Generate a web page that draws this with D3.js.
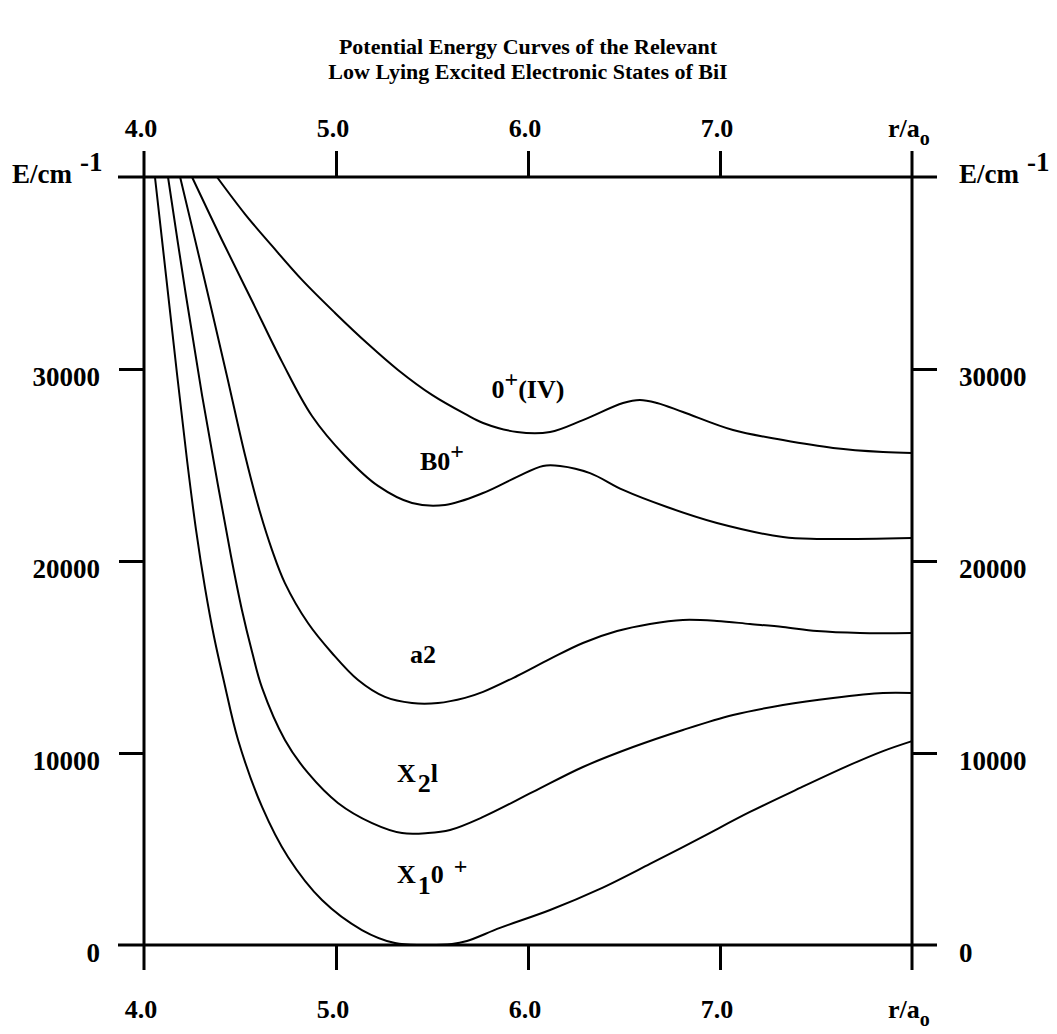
<!DOCTYPE html>
<html>
<head>
<meta charset="utf-8">
<script src="https://cdn.jsdelivr.net/npm/d3@7/dist/d3.min.js"></script>
<style>
  body { margin: 0; background: #fff; }
  text { font-family: "Liberation Serif", "Times New Roman", serif; fill: #000; font-weight: bold; }
</style>
</head>
<body>
<div id="chart"></div>
<script>
// title and axis labels
const titleLines = ["Potential Energy Curves of the Relevant", "Low Lying Excited Electronic States of BiI"];
const rTicks = [4, 5, 6, 7, 8];
const rTickLabels = ["4.0", "5.0", "6.0", "7.0"];
const eTicks = [0, 10000, 20000, 30000, 40000];
const eTickLabels = ["0", "10000", "20000", "30000"];

// potential curves, r in bohr, E in cm-1
const rX1 = [4.057, 4.115, 4.172, 4.224, 4.271, 4.318, 4.365, 4.417, 4.49, 4.615, 4.75, 4.927, 5.135, 5.307, 5.448, 5.604, 5.682, 5.854, 6.115, 6.375, 6.635, 6.896, 7.156, 7.417, 7.677, 7.849, 8.0];
const eX1 = [40000, 34840, 29740, 25260, 21620, 18590, 16040, 13700, 10680, 7190, 4580, 2340, 780, 100, 0, 50, 210, 890, 1820, 2920, 4220, 5570, 6930, 8180, 9380, 10100, 10620];

const rX2 = [4.125, 4.214, 4.302, 4.385, 4.453, 4.51, 4.563, 4.615, 4.734, 4.854, 5.01, 5.188, 5.344, 5.479, 5.594, 5.766, 6.026, 6.286, 6.547, 6.807, 7.068, 7.328, 7.589, 7.849, 8.0];
const eX2 = [40000, 34120, 28650, 23960, 20260, 17450, 15260, 13390, 10680, 8960, 7400, 6350, 5830, 5830, 5990, 6670, 7970, 9270, 10310, 11200, 11980, 12500, 12870, 13130, 13130];

const rA2 = [4.188, 4.307, 4.432, 4.526, 4.604, 4.667, 4.734, 4.854, 4.979, 5.115, 5.255, 5.396, 5.531, 5.672, 5.766, 5.943, 6.115, 6.286, 6.464, 6.635, 6.807, 6.984, 7.156, 7.328, 7.505, 7.729, 8.0];
const eA2 = [40000, 35000, 29640, 25520, 22550, 20570, 18850, 16770, 15210, 13800, 12920, 12600, 12600, 12870, 13180, 14010, 14900, 15730, 16350, 16720, 16930, 16880, 16720, 16560, 16350, 16250, 16250];

const rB0 = [4.25, 4.406, 4.563, 4.719, 4.875, 5.047, 5.219, 5.396, 5.568, 5.766, 5.943, 6.078, 6.167, 6.323, 6.495, 6.724, 6.984, 7.328, 7.505, 8.0];
const eB0 = [40000, 36720, 33540, 30370, 27550, 25470, 23910, 23020, 22920, 23540, 24380, 24950, 24950, 24580, 23700, 22810, 21980, 21250, 21150, 21200];

const rIV = [4.38, 4.526, 4.667, 4.823, 4.995, 5.167, 5.323, 5.5, 5.672, 5.766, 5.943, 6.115, 6.286, 6.495, 6.583, 6.672, 6.807, 7.068, 7.328, 7.589, 7.849, 8.0];
const eIV = [40000, 38070, 36410, 34640, 32920, 31300, 29950, 28650, 27660, 27190, 26720, 26720, 27340, 28230, 28390, 28230, 27760, 26820, 26300, 25890, 25680, 25630];

const curves = [
  {name: "X1 0+", r: rX1, e: eX1},
  {name: "X2 1", r: rX2, e: eX2},
  {name: "a2", r: rA2, e: eA2},
  {name: "B0+", r: rB0, e: eB0},
  {name: "0+(IV)", r: rIV, e: eIV}
];

const W = 1057, H = 1034;

const svg = d3.select("#chart").append("svg")
  .attr("width", W)
  .attr("height", H);

svg.append("rect").attr("width", W).attr("height", H).attr("fill", "#fff");

const x = d3.scaleLinear().domain([4, 8]).range([144, 912]);
const y = d3.scaleLinear().domain([0, 40000]).range([945, 177]);

// title
svg.append("g").selectAll("text")
  .data(titleLines)
  .join("text")
  .attr("x", 528)
  .attr("y", (d, i) => 54 + i * 25)
  .attr("text-anchor", "middle")
  .style("font-size", "22px")
  .text(d => d);

// frame lines (extend past the axes like the original)
const frame = svg.append("g").attr("stroke", "#000").attr("stroke-width", 3);
[0, 40000].forEach(v => {
  frame.append("line")
    .attr("x1", x(4) - 26).attr("x2", x(8) + 25)
    .attr("y1", y(v)).attr("y2", y(v));
});
[4, 8].forEach(v => {
  frame.append("line")
    .attr("x1", x(v)).attr("x2", x(v))
    .attr("y1", y(40000) - 26).attr("y2", y(0) + 25);
});

// ticks via d3 axes
function styleAxis(g) {
  g.select(".domain").remove();
  g.selectAll(".tick line").attr("stroke", "#000").attr("stroke-width", 3);
  g.selectAll(".tick text").remove();
}
svg.append("g").attr("transform", `translate(0,${y(40000)})`)
  .call(d3.axisTop(x).tickValues(rTicks.slice(1, 4)).tickSize(26)).call(styleAxis);
svg.append("g").attr("transform", `translate(0,${y(0)})`)
  .call(d3.axisBottom(x).tickValues(rTicks.slice(1, 4)).tickSize(25)).call(styleAxis);
svg.append("g").attr("transform", `translate(${x(4)},0)`)
  .call(d3.axisLeft(y).tickValues(eTicks.slice(1, 4)).tickSize(25)).call(styleAxis);
svg.append("g").attr("transform", `translate(${x(8)},0)`)
  .call(d3.axisRight(y).tickValues(eTicks.slice(1, 4)).tickSize(25)).call(styleAxis);

// x tick labels, top and bottom
[y(40000) - 40, y(0) + 73].forEach(by => {
  svg.append("g").selectAll("text")
    .data(rTickLabels)
    .join("text")
    .attr("x", (d, i) => x(rTicks[i]) - 3)
    .attr("y", by)
    .attr("text-anchor", "middle")
    .style("font-size", "26px")
    .text(d => d);
  const ra = svg.append("text")
    .attr("x", x(8) - 24)
    .attr("y", by)
    .style("font-size", "26px");
  ra.append("tspan").text("r/a");
  ra.append("tspan").attr("dy", 8).style("font-size", "20px").text("o");
});

// y tick labels, left and right
const yl = svg.append("g").style("font-size", "27px");
yl.selectAll(".yl")
  .data(eTickLabels)
  .join("text")
  .attr("class", "yl")
  .attr("x", x(4) - 44)
  .attr("y", (d, i) => y(eTicks[i]) + 17)
  .attr("text-anchor", "end")
  .text(d => d);
yl.selectAll(".yr")
  .data(eTickLabels)
  .join("text")
  .attr("class", "yr")
  .attr("x", x(8) + 47)
  .attr("y", (d, i) => y(eTicks[i]) + 17)
  .text(d => d);

// energy unit labels
[12, x(8) + 47].forEach(lx => {
  const t = yl.append("text").attr("x", lx).attr("y", y(40000) + 6);
  t.append("tspan").text("E/cm");
  t.append("tspan").attr("dx", 8).attr("dy", -12).text("-1");
});

// curves
const line = d3.line()
  .x(d => x(d[0]))
  .y(d => y(d[1]))
  .curve(d3.curveCatmullRom.alpha(0.5));

svg.append("g").selectAll("path")
  .data(curves)
  .join("path")
  .attr("fill", "none")
  .attr("stroke", "#000")
  .attr("stroke-width", 2)
  .attr("d", c => line(c.r.map((r, i) => [r, c.e[i]])));

// curve labels
const cl = svg.append("g").style("font-size", "26px");
function label(r, e, parts) {
  const t = cl.append("text").attr("x", x(r)).attr("y", y(e));
  parts.forEach(p => {
    const s = t.append("tspan").text(p.t);
    if (p.dy) s.attr("dy", p.dy);
    if (p.dx) s.attr("dx", p.dx);
    if (p.fs) s.style("font-size", p.fs);
  });
}
label(5.81, 28490, [{t: "0"}, {t: "+", dy: -11, fs: "24px"}, {t: "(IV)", dy: 11}]);
label(5.4375, 24740, [{t: "B0"}, {t: "+", dy: -11, fs: "24px"}]);
label(5.385, 14690, [{t: "a2"}]);
label(5.318, 8490, [{t: "X"}, {t: "2", dx: 2, dy: 10}, {t: "l", dy: -10}]);
label(5.318, 3230, [{t: "X"}, {t: "1", dx: 2, dy: 11}, {t: "0", dy: -11}, {t: "+", dx: 10, dy: -9, fs: "24px"}]);
</script>
</body>
</html>
